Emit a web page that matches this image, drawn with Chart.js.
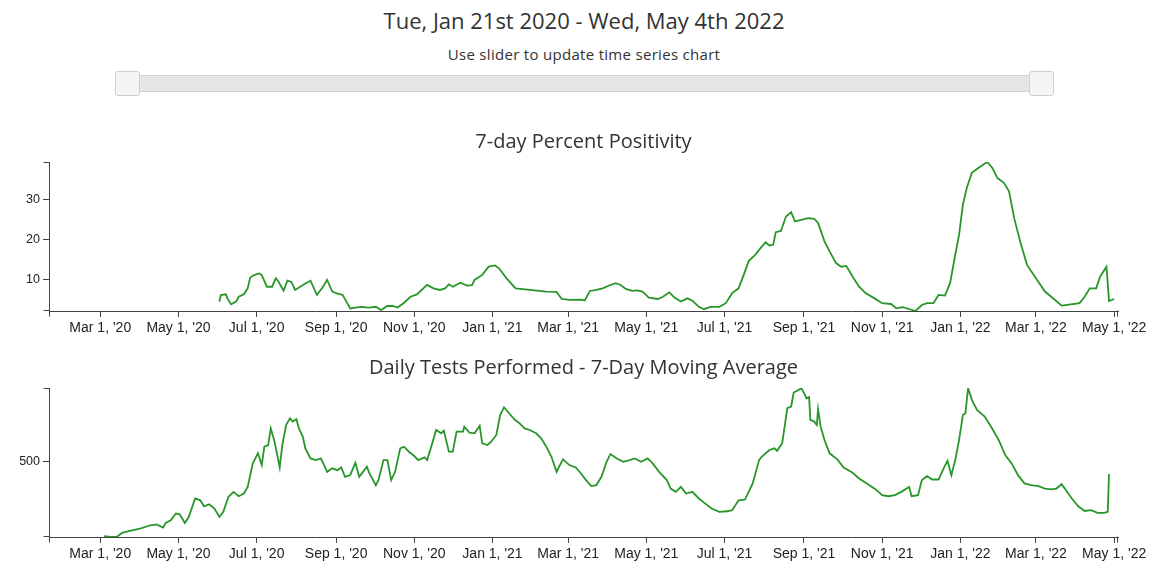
<!DOCTYPE html>
<html>
<head>
<meta charset="utf-8">
<script src="https://cdn.jsdelivr.net/npm/chart.js@4.4.1/dist/chart.umd.min.js"></script>
<style>
html,body{margin:0;padding:0;background:#fff;}
body{width:1162px;height:566px;position:relative;overflow:hidden;font-family:"Open Sans",sans-serif;color:#333;}
#title{position:absolute;left:0;width:1168px;top:6px;text-align:center;font-size:22px;line-height:28px;color:#333;}
#subtitle{position:absolute;left:0;width:1168px;top:45px;text-align:center;font-size:15px;line-height:18px;color:#333;letter-spacing:0.3px;}
#track{position:absolute;left:118px;width:932px;top:75px;height:15px;background:#e6e6e6;border:1px solid #d3d3d3;box-sizing:content-box;}
.handle{position:absolute;top:71px;width:23px;height:23px;background:#f5f5f5;border:1px solid #cfcfcf;border-radius:3px;}
#h1{left:115px;}
#h2{left:1029px;}
canvas{position:absolute;left:0;}
#c1{top:125px;}
#c2{top:350px;}
</style>
</head>
<body>
<div id="title">Tue, Jan 21st 2020 - Wed, May 4th 2022</div>
<div id="subtitle">Use slider to update time series chart</div>
<div id="track"></div>
<div class="handle" id="h1"></div>
<div class="handle" id="h2"></div>
<canvas id="c1" width="1162" height="215"></canvas>
<canvas id="c2" width="1162" height="216"></canvas>
<script>
// ---- Data ----
const rangeStart = '2020-01-21';
const rangeEnd = '2022-05-04';

const xTickDates = ['2020-03-01','2020-05-01','2020-07-01','2020-09-01','2020-11-01','2021-01-01','2021-03-01','2021-05-01','2021-07-01','2021-09-01','2021-11-01','2022-01-01','2022-03-01','2022-05-01'];
const xTickLabels = ["Mar 1, '20","May 1, '20","Jul 1, '20","Sep 1, '20","Nov 1, '20","Jan 1, '21","Mar 1, '21","May 1, '21","Jul 1, '21","Sep 1, '21","Nov 1, '21","Jan 1, '22","Mar 1, '22","May 1, '22"];

const posTicks = [10, 20, 30];
const testTicks = [500];

const posDates = ['2020-06-02','2020-06-03','2020-06-07','2020-06-08','2020-06-11','2020-06-15','2020-06-17','2020-06-21','2020-06-24','2020-06-26','2020-06-29','2020-07-03','2020-07-05','2020-07-09','2020-07-13','2020-07-16','2020-07-18','2020-07-22','2020-07-25','2020-07-28','2020-07-31','2020-08-04','2020-08-08','2020-08-12','2020-08-17','2020-08-21','2020-08-25','2020-08-29','2020-09-02','2020-09-06','2020-09-09','2020-09-12','2020-09-16','2020-09-21','2020-09-26','2020-10-02','2020-10-06','2020-10-11','2020-10-15','2020-10-19','2020-10-24','2020-10-29','2020-11-03','2020-11-11','2020-11-16','2020-11-21','2020-11-25','2020-11-28','2020-12-01','2020-12-07','2020-12-12','2020-12-16','2020-12-18','2020-12-24','2020-12-29','2021-01-03','2021-01-06','2021-01-12','2021-01-19','2021-02-12','2021-02-20','2021-02-24','2021-03-02','2021-03-11','2021-03-14','2021-03-18','2021-03-23','2021-03-28','2021-04-02','2021-04-07','2021-04-11','2021-04-15','2021-04-20','2021-04-24','2021-04-28','2021-05-03','2021-05-10','2021-05-14','2021-05-19','2021-05-23','2021-05-28','2021-06-02','2021-06-06','2021-06-11','2021-06-15','2021-06-20','2021-06-27','2021-07-02','2021-07-07','2021-07-12','2021-07-16','2021-07-20','2021-07-25','2021-07-28','2021-08-02','2021-08-05','2021-08-08','2021-08-10','2021-08-14','2021-08-18','2021-08-22','2021-08-25','2021-08-30','2021-09-04','2021-09-09','2021-09-12','2021-09-17','2021-09-21','2021-09-26','2021-09-30','2021-10-04','2021-10-09','2021-10-14','2021-10-19','2021-10-26','2021-11-01','2021-11-08','2021-11-12','2021-11-17','2021-11-22','2021-11-27','2021-12-02','2021-12-06','2021-12-11','2021-12-15','2021-12-20','2021-12-24','2021-12-28','2021-12-31','2022-01-03','2022-01-06','2022-01-10','2022-01-15','2022-01-19','2022-01-22','2022-01-26','2022-01-30','2022-02-04','2022-02-08','2022-02-12','2022-02-17','2022-02-22','2022-03-01','2022-03-08','2022-03-15','2022-03-21','2022-03-28','2022-04-04','2022-04-08','2022-04-12','2022-04-17','2022-04-20','2022-04-25','2022-04-27','2022-05-01'];
const posValues = [4.6,6.2,6.4,5.5,3.9,4.6,5.8,6.4,7.9,10.6,11.2,11.6,11.2,8.3,8.3,10.4,9.6,7.3,9.8,9.5,7.5,8.3,9.1,9.8,6.3,7.9,10.0,7.1,6.6,6.3,4.6,2.9,3.1,3.3,3.1,3.3,2.5,3.5,3.5,3.1,4.3,5.8,6.4,8.75,7.9,7.5,7.9,8.9,8.3,9.3,8.6,8.7,10.0,11.25,13.3,13.6,12.9,10.4,7.9,7.1,7.0,5.25,5.0,5.1,4.9,7.25,7.5,7.9,8.6,9.2,8.75,7.75,7.25,7.4,7.1,5.6,5.25,5.8,6.9,5.6,4.6,5.4,4.8,3.3,2.7,3.3,3.3,4.2,6.7,7.9,11.25,14.75,16.25,17.5,19.4,18.6,18.75,21.9,22.2,25.8,26.9,24.6,25.0,25.4,25.25,24.2,19.6,17.1,14.2,13.3,13.5,10.8,8.3,6.7,5.4,4.2,4.0,2.9,3.2,2.75,2.25,3.75,4.2,4.2,6.25,6.1,9.2,16.25,21.25,28.75,32.9,36.7,37.9,38.75,39.4,37.9,35.4,34.2,32.1,25.4,19.2,13.75,10.4,7.1,5.25,3.6,3.9,4.2,5.8,7.9,7.9,10.8,13.3,4.75,5.25];

const testDates = ['2020-03-04','2020-03-09','2020-03-14','2020-03-18','2020-03-24','2020-04-01','2020-04-09','2020-04-14','2020-04-19','2020-04-21','2020-04-25','2020-04-29','2020-05-02','2020-05-06','2020-05-09','2020-05-14','2020-05-18','2020-05-21','2020-05-25','2020-05-29','2020-06-02','2020-06-05','2020-06-09','2020-06-13','2020-06-17','2020-06-21','2020-06-24','2020-06-28','2020-07-02','2020-07-05','2020-07-07','2020-07-10','2020-07-12','2020-07-15','2020-07-19','2020-07-21','2020-07-24','2020-07-27','2020-07-29','2020-08-01','2020-08-03','2020-08-06','2020-08-08','2020-08-12','2020-08-16','2020-08-20','2020-08-22','2020-08-25','2020-08-29','2020-09-02','2020-09-05','2020-09-08','2020-09-12','2020-09-16','2020-09-19','2020-09-22','2020-09-25','2020-09-27','2020-10-02','2020-10-04','2020-10-08','2020-10-11','2020-10-14','2020-10-17','2020-10-21','2020-10-24','2020-10-28','2020-11-01','2020-11-04','2020-11-09','2020-11-11','2020-11-15','2020-11-18','2020-11-22','2020-11-24','2020-11-28','2020-12-01','2020-12-04','2020-12-09','2020-12-10','2020-12-14','2020-12-18','2020-12-22','2020-12-24','2020-12-28','2020-12-31','2021-01-04','2021-01-07','2021-01-10','2021-01-14','2021-01-18','2021-01-22','2021-01-26','2021-01-30','2021-02-04','2021-02-08','2021-02-12','2021-02-16','2021-02-20','2021-02-22','2021-02-25','2021-03-02','2021-03-07','2021-03-11','2021-03-15','2021-03-19','2021-03-23','2021-03-27','2021-03-31','2021-04-03','2021-04-08','2021-04-13','2021-04-18','2021-04-22','2021-04-27','2021-05-02','2021-05-06','2021-05-11','2021-05-17','2021-05-20','2021-05-24','2021-05-28','2021-06-01','2021-06-06','2021-06-11','2021-06-16','2021-06-21','2021-06-27','2021-07-03','2021-07-07','2021-07-12','2021-07-17','2021-07-23','2021-07-28','2021-07-30','2021-08-05','2021-08-09','2021-08-11','2021-08-15','2021-08-19','2021-08-22','2021-08-24','2021-08-27','2021-08-30','2021-09-01','2021-09-03','2021-09-05','2021-09-06','2021-09-09','2021-09-11','2021-09-12','2021-09-14','2021-09-17','2021-09-21','2021-09-27','2021-10-02','2021-10-09','2021-10-14','2021-10-20','2021-10-27','2021-11-01','2021-11-06','2021-11-11','2021-11-16','2021-11-22','2021-11-24','2021-11-29','2021-12-02','2021-12-06','2021-12-10','2021-12-15','2021-12-19','2021-12-22','2021-12-25','2021-12-28','2021-12-31','2022-01-03','2022-01-05','2022-01-07','2022-01-10','2022-01-14','2022-01-20','2022-01-25','2022-01-31','2022-02-05','2022-02-10','2022-02-15','2022-02-20','2022-02-25','2022-03-03','2022-03-08','2022-03-13','2022-03-17','2022-03-21','2022-03-24','2022-03-29','2022-04-03','2022-04-08','2022-04-13','2022-04-18','2022-04-23','2022-04-26','2022-04-27'];
const testValues = [5,0,2,27,40,56,78,84,62,93,111,156,151,93,133,256,244,204,218,189,133,167,267,300,271,289,333,489,556,478,600,611,722,633,462,611,744,789,767,783,722,667,589,522,511,522,489,433,456,444,462,400,411,493,400,433,467,422,344,378,511,511,378,433,589,600,565,538,511,529,511,622,711,689,707,567,567,700,700,733,693,689,738,622,611,633,678,811,862,822,782,756,722,711,689,656,600,533,433,467,516,478,462,422,378,338,344,400,500,551,522,500,511,522,500,522,489,433,378,322,300,333,289,300,256,222,189,167,171,178,244,249,356,511,533,578,589,573,622,856,867,960,973,989,956,922,929,778,767,744,849,733,644,556,516,462,427,389,356,316,278,271,278,300,333,271,278,378,404,382,382,456,507,411,511,644,811,822,990,911,844,800,733,644,544,489,411,356,344,338,322,316,322,351,316,256,204,173,178,160,160,167,418];

// ---- Rendering ----
const ts = d => new Date(d + 'T00:00:00Z').getTime();
const LINE = 'rgb(40,150,40)';
const AXIS = '#444';
const TICKTEXT = '#222';

const outerTicks = {
  id: 'outerTicks',
  afterDraw(chart) {
    const a = chart.chartArea, ctx = chart.ctx;
    const L = Math.round(a.left) + 0.5, R = Math.round(a.right) - 0.5;
    const T = Math.round(a.top) + 0.5, B = Math.round(a.bottom) - 0.5;
    ctx.save();
    ctx.strokeStyle = AXIS;
    ctx.lineWidth = 1;
    ctx.beginPath();
    ctx.moveTo(L - 6, T); ctx.lineTo(L, T);
    ctx.moveTo(L - 6, B); ctx.lineTo(L, B);
    ctx.moveTo(L, B); ctx.lineTo(L, B + 6);
    ctx.moveTo(R, B); ctx.lineTo(R, B + 6);
    ctx.stroke();
    ctx.restore();
  }
};

function makeChart(id, title, dates, values, yTicks, padTop, padBottom) {
  const pts = dates.map((d, i) => ({x: ts(d), y: values[i]}));
  const ymin = Math.min(...values), ymax = Math.max(...values);
  return new Chart(document.getElementById(id), {
    type: 'line',
    data: { datasets: [{ data: pts, borderColor: LINE, borderWidth: 1.8, pointRadius: 0, tension: 0, fill: false }] },
    plugins: [outerTicks],
    options: {
      responsive: false,
      animation: false,
      devicePixelRatio: 1,
      events: [],
      layout: { padding: { left: 0, right: 44, top: 0, bottom: 0 } },
      plugins: {
        legend: { display: false },
        tooltip: { enabled: false },
        title: {
          display: true, text: title, fullSize: false, color: '#333',
          font: { family: '"Open Sans", sans-serif', size: 20, weight: 'normal', lineHeight: 1.2 },
          padding: { top: padTop, bottom: padBottom }
        }
      },
      scales: {
        x: {
          type: 'linear', min: ts(rangeStart), max: ts(rangeEnd),
          afterBuildTicks: s => { s.ticks = xTickDates.map(d => ({ value: ts(d) })); },
          afterFit: s => { s.height = 29; },
          ticks: {
            autoSkip: false, maxRotation: 0, minRotation: 0, padding: 3, color: TICKTEXT,
            font: { family: '"Liberation Sans", Arial, sans-serif', size: 14 },
            callback: (v, i) => xTickLabels[i]
          },
          grid: { drawOnChartArea: false, drawTicks: true, tickLength: 6, color: AXIS, lineWidth: 1 },
          border: { display: true, color: AXIS, width: 1 }
        },
        y: {
          type: 'linear', min: ymin, max: ymax,
          afterBuildTicks: s => { s.ticks = yTicks.map(v => ({ value: v })); },
          afterFit: s => { s.width = 49; },
          ticks: {
            padding: 3, color: TICKTEXT,
            font: { family: '"Liberation Sans", Arial, sans-serif', size: 12.5 },
            callback: v => String(v)
          },
          grid: { drawOnChartArea: false, drawTicks: true, tickLength: 6, color: AXIS, lineWidth: 1 },
          border: { display: true, color: AXIS, width: 1 }
        }
      }
    }
  });
}

makeChart('c1', '7-day Percent Positivity', posDates, posValues, posTicks, 5, 8);
makeChart('c2', 'Daily Tests Performed - 7-Day Moving Average', testDates, testValues, testTicks, 6, 8);
</script>
</body>
</html>
